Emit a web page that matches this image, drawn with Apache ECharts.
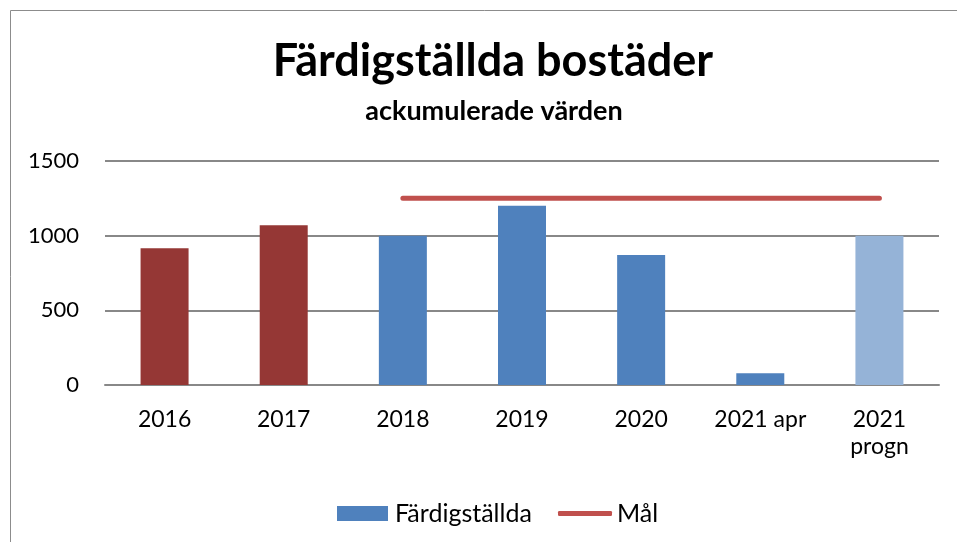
<!DOCTYPE html>
<html><head><meta charset="utf-8">
<script src="https://cdn.jsdelivr.net/npm/echarts@6/dist/echarts.min.js"></script>
<style>html,body{margin:0;padding:0;background:#fff}#c{width:957px;height:542px}</style>
</head><body><div id="c"></div>
<script>
const categories = ['2016', '2017', '2018', '2019', '2020', '2021 apr', '2021\nprogn'];
const completed = [915, 1070, 1000, 1200, 870, 78, 1000];
const barColors = ['#953735', '#953735', '#4F81BD', '#4F81BD', '#4F81BD', '#4F81BD', '#95B3D7'];
const goal = [null, null, 1250, 1250, 1250, 1250, 1250];
const yTicks = [0, 500, 1000, 1500];

const font = 'Lato, "Open Sans", sans-serif';
const chart = echarts.init(document.getElementById('c'));
chart.setOption({
  animation: false,
  graphic: [{ type: 'rect', shape: { x: 10.5, y: 10.5, width: 980, height: 600 }, style: { fill: 'none', stroke: '#8c8c8c', lineWidth: 1 }, silent: true }],
  title: [
    { text: 'Färdigställda bostäder', left: 488, textAlign: 'center', top: 34, textStyle: { fontFamily: font, fontSize: 45, fontWeight: 'bold', color: '#000' } },
    { text: 'ackumulerade värden', left: 489, textAlign: 'center', top: 93, textStyle: { fontFamily: font, fontSize: 27, fontWeight: 'bold', color: '#000' } }
  ],
  legend: [
    { left: 332, top: 496, itemWidth: 51, itemHeight: 15,
      textStyle: { fontFamily: font, fontSize: 25, color: '#000', padding: [0, 0, 0, 2] },
      data: [{ name: 'Färdigställda', icon: 'rect' }] },
    { left: 553, top: 496, itemWidth: 54, itemHeight: 5,
      textStyle: { fontFamily: font, fontSize: 25, color: '#000', padding: [0, 0, 0, 0] },
      data: [{ name: 'Mål', icon: 'roundRect', itemStyle: { color: '#C0504D' } }] }
  ],
  grid: { left: 105, right: 18, top: 161, bottom: 157 },
  xAxis: {
    type: 'category', data: categories,
    axisLine: { lineStyle: { color: '#888', width: 2 } }, axisTick: { show: false },
    axisLabel: { interval: 0, hideOverlap: false, fontFamily: font, fontSize: 23, color: '#000', margin: 21, lineHeight: 27 }
  },
  yAxis: {
    type: 'value', min: 0, max: 1500, interval: 500,
    axisLabel: { fontFamily: font, fontSize: 22, color: '#000', margin: 26,
      formatter: v => yTicks.includes(v) ? String(v) : '' },
    splitLine: { lineStyle: { color: '#888', width: 2 } },
    axisLine: { show: false }, axisTick: { show: false }
  },
  series: [
    { name: 'Färdigställda', type: 'bar', barWidth: 48, itemStyle: { color: '#4F81BD' },
      data: completed.map((v, i) => ({ value: v, itemStyle: { color: barColors[i] } })) },
    { name: 'Mål', type: 'line', data: goal, symbol: 'none', showSymbol: false,
      itemStyle: { color: '#C0504D' },
      lineStyle: { color: '#C0504D', width: 5, cap: 'round' } }
  ]
});
</script></body></html>
